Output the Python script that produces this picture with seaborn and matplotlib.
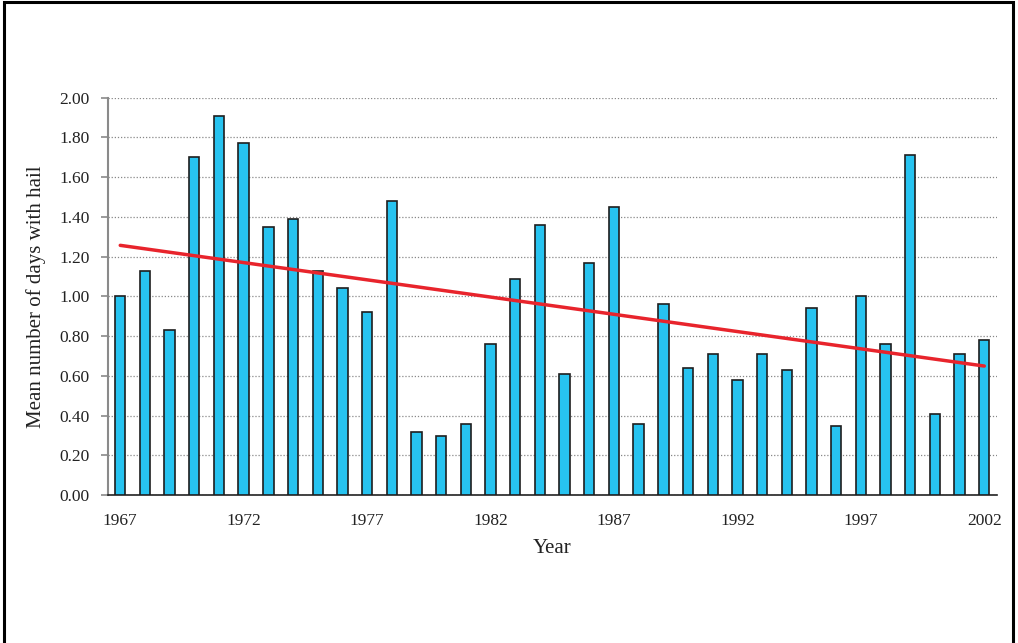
import numpy as np
import pandas as pd
import matplotlib
matplotlib.use("Agg")
import matplotlib.pyplot as plt
import seaborn as sns
from matplotlib.patches import Rectangle

years = list(range(1967, 2003))
hail_days = [1.00, 1.13, 0.83, 1.70, 1.91, 1.77, 1.35, 1.39, 1.13, 1.04, 0.92, 1.48,
             0.32, 0.30, 0.36, 0.76, 1.09, 1.36, 0.61, 1.17, 1.45, 0.36, 0.96, 0.64,
             0.71, 0.58, 0.71, 0.63, 0.94, 0.35, 1.00, 0.76, 1.71, 0.41, 0.71, 0.78]
xtick_years = [1967, 1972, 1977, 1982, 1987, 1992, 1997, 2002]
ytick_vals = [0.0, 0.2, 0.4, 0.6, 0.8, 1.0, 1.2, 1.4, 1.6, 1.8, 2.0]

df = pd.DataFrame({"Year": [str(y) for y in years], "Hail": hail_days})
df["pos"] = np.arange(len(years))

sns.set_theme(style="white")
plt.rcParams["font.family"] = ["Liberation Serif", "DejaVu Serif"]

fig = plt.figure(figsize=(10.18, 6.43), dpi=100)
ax = fig.add_axes([0.106, 0.230, 0.873, 0.618])

sns.barplot(data=df, x="Year", y="Hail", order=df["Year"].tolist(), color="#27C3F0",
            saturation=1, width=0.42, edgecolor="#1e1e1e", linewidth=1.2, ax=ax, zorder=3)

sns.regplot(data=df, x="pos", y="Hail", scatter=False, ci=None, truncate=True,
            line_kws={"color": "#E8242C", "linewidth": 2.5, "zorder": 5}, ax=ax)

ax.set_xlim(-0.5, len(years) - 0.5)
ax.set_ylim(0, 2.0)
ax.set_yticks(ytick_vals)
ax.set_yticklabels([f"{v:.2f}" for v in ytick_vals], fontsize=12.5, color="#222222")
ax.set_xticks([years.index(y) for y in xtick_years])
ax.set_xticklabels([str(y) for y in xtick_years], fontsize=12.5, color="#222222")

ax.yaxis.grid(True, linestyle=(0, (1, 1.5)), color="#888888", linewidth=0.9, zorder=0)
ax.xaxis.grid(False)
ax.set_axisbelow(True)

for s in ["top", "right"]:
    ax.spines[s].set_visible(False)
ax.spines["left"].set_color("#8a8a8a")
ax.spines["left"].set_linewidth(1.5)
ax.spines["bottom"].set_color("#222222")
ax.spines["bottom"].set_linewidth(1.2)

ax.tick_params(axis="y", which="major", length=5, width=1.2, color="#8a8a8a",
               direction="out", left=True, pad=8)
ax.tick_params(axis="x", which="major", length=0, pad=13)

ax.set_ylabel("Mean number of days with hail", fontsize=15, color="#222222", labelpad=10)
ax.set_xlabel("Year", fontsize=15, color="#222222", labelpad=7)

fig.patches.append(Rectangle((0.004, -0.05), 0.991, 1.047, transform=fig.transFigure,
                             fill=False, edgecolor="black", linewidth=2.2))

fig.savefig("out.png", dpi=100, facecolor="white")
